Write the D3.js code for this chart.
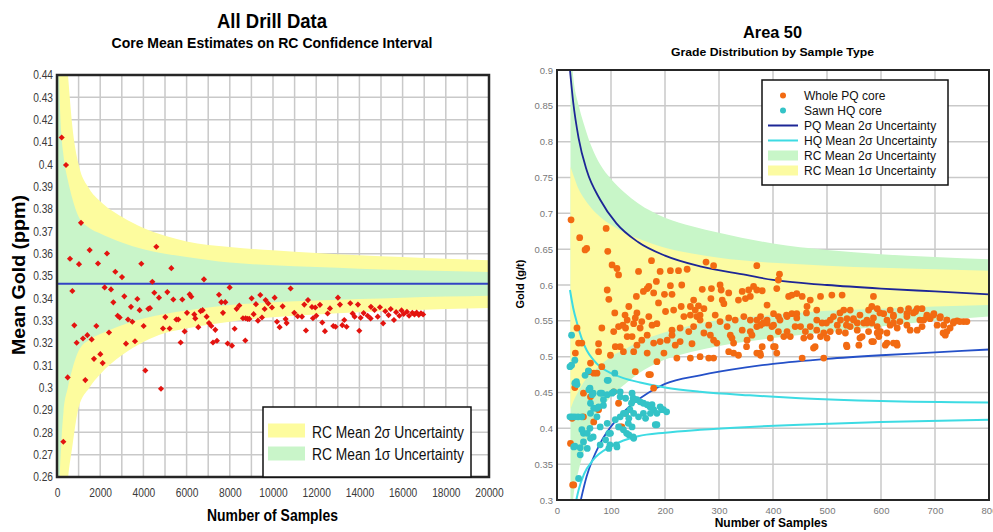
<!DOCTYPE html>
<html>
<head>
<meta charset="utf-8">
<script src="https://cdn.jsdelivr.net/npm/d3@7"></script>
<style>
  body { margin: 0; background: #fff; }
  text { font-family: "Liberation Sans", Arial, sans-serif; }
</style>
</head>
<body>
<svg id="chart" width="993" height="532"></svg>
<script>
// ---------- panel izquierdo: All Drill Data ----------
const left_x_ticks = [0, 2000, 4000, 6000, 8000, 10000, 12000, 14000, 16000, 18000, 20000];
const left_y_ticks = [0.26, 0.27, 0.28, 0.29, 0.3, 0.31, 0.32, 0.33, 0.34, 0.35, 0.36, 0.37, 0.38, 0.39, 0.4, 0.41, 0.42, 0.43, 0.44];
const left_rc_mean = 0.3465;

// bandas de confianza RC
const left_band_n   = [50, 100, 200, 300, 500, 700, 1000, 1500, 2000, 3000, 4000, 5000, 6000, 8000, 10000, 12000, 14000, 16000, 18000, 20000];
const left_2s_hi    = [0.65, 0.56, 0.49, 0.465, 0.441, 0.418, 0.400, 0.389, 0.3835, 0.3765, 0.3715, 0.368, 0.3655, 0.3630, 0.3615, 0.3603, 0.3593, 0.3585, 0.3577, 0.3571];
const left_2s_lo    = [0.04, 0.13, 0.20, 0.228, 0.258, 0.273, 0.291, 0.300, 0.306, 0.3145, 0.3205, 0.3245, 0.3265, 0.3295, 0.3315, 0.3328, 0.3338, 0.3346, 0.3352, 0.3357];
const left_1s_hi    = [0.47, 0.44, 0.414, 0.404, 0.393, 0.385, 0.3765, 0.3715, 0.369, 0.365, 0.362, 0.360, 0.3585, 0.356, 0.3548, 0.354, 0.3533, 0.3527, 0.3522, 0.3518];
const left_1s_lo    = [0.223, 0.250, 0.275, 0.289, 0.300, 0.308, 0.3165, 0.3215, 0.324, 0.328, 0.331, 0.333, 0.3345, 0.337, 0.3382, 0.339, 0.3397, 0.3403, 0.3408, 0.3412];

// medias de núcleo (número de muestras, oro medio)
const core_means = [
  [217,0.412],[417,0.3997],[293,0.2758],[494,0.3046],[602,0.3577],[710,0.3433],[802,0.3279],[910,0.3201],
  [1018,0.3553],[1111,0.3738],[1203,0.3220],[1311,0.3034],[1404,0.3235],[1512,0.3616],[1604,0.3216],[1712,0.3129],
  [1821,0.3276],[1898,0.3556],[2006,0.3150],[2114,0.3110],[2206,0.3449],[2314,0.3601],[2407,0.3247],[2500,0.3440],
  [2608,0.3382],[2700,0.3519],[2808,0.3322],[2901,0.3314],[3009,0.3495],[3117,0.3409],[3194,0.3197],[3287,0.3305],
  [3425,0.3362],[3487,0.3295],[3611,0.3208],[3719,0.3397],[3826,0.3347],[3904,0.3555],[4012,0.3276],[4089,0.3077],
  [4228,0.3353],[4305,0.3356],[4413,0.3474],[4505,0.3425],[4598,0.3631],[4721,0.3403],[4814,0.2995],[4907,0.3265],
  [5015,0.3316],[5107,0.3428],[5215,0.3265],[5293,0.3535],[5385,0.3395],[5524,0.3305],[5616,0.3305],[5724,0.3202],
  [5801,0.3395],[5909,0.3252],[6018,0.3335],[6141,0.3418],[6218,0.3407],[6357,0.3328],[6403,0.3310],[6542,0.3271],
  [6650,0.3343],[6743,0.3347],[6804,0.3485],[6928,0.3318],[7036,0.3289],[7144,0.3276],[7221,0.3202],[7329,0.3259],
  [7406,0.3210],[7499,0.3416],[7607,0.3383],[7684,0.3335],[7792,0.3383],[7900,0.3198],[7993,0.3449],[8101,0.3188],
  [8224,0.3264],[8317,0.3353],[8440,0.3368],[8610,0.3311],[8718,0.3211],[8733,0.3311],[8826,0.3308],[8903,0.3308],
  [9011,0.3400],[9104,0.3329],[9211,0.3374],[9304,0.3300],[9412,0.3415],[9489,0.3314],[9613,0.3352],[9659,0.3392],
  [9782,0.3377],[9952,0.3359],[10076,0.3403],[10184,0.3295],[10307,0.3271],[10446,0.3364],[10585,0.3307],[10631,0.3289],
  [10816,0.3444],[10986,0.3335],[11141,0.3320],[11341,0.3318],[11449,0.3372],[11526,0.3256],[11619,0.3392],[11804,0.3361],
  [11850,0.3311],[11958,0.3359],[12004,0.3322],[12174,0.3371],[12282,0.3292],[12405,0.3253],[12529,0.3332],[12637,0.3355],
  [12791,0.3276],[12899,0.3273],[13007,0.3403],[13100,0.3372],[13208,0.3280],[13300,0.3303],[13408,0.3273],[13578,0.3378],
  [13686,0.3332],[13779,0.3318],[13933,0.3372],[13995,0.3255],[14057,0.3313],[14196,0.3334],[14381,0.3322],[14520,0.3310],
  [14535,0.3362],[14700,0.3348],[14850,0.3318],[14950,0.3360],[15100,0.3288],[15200,0.3342],[15350,0.3325],[15450,0.3352],
  [15600,0.3303],[15700,0.3338],[15850,0.3322],[15950,0.3346],[16050,0.3330],[16200,0.3340],[16300,0.3322],[16450,0.3335],
  [16550,0.3328],[16650,0.3336],[16750,0.3326],[16850,0.3333],[16950,0.3328]
];
const left_legend = ["RC Mean 2σ Uncertainty", "RC Mean 1σ Uncertainty"];

// ---------- panel derecho: Area 50 ----------
const right_x_ticks = [0, 100, 200, 300, 400, 500, 600, 700, 800];
const right_y_ticks = [0.3, 0.35, 0.4, 0.45, 0.5, 0.55, 0.6, 0.65, 0.7, 0.75, 0.8, 0.85, 0.9];

const rc_n      = [25, 30, 40, 50, 65, 80, 100, 125, 150, 200, 250, 300, 400, 500, 600, 700, 800];
const rc_2s_hi  = [0.936, 0.891, 0.851, 0.824, 0.791, 0.768, 0.748, 0.729, 0.714, 0.694, 0.682, 0.673, 0.658, 0.649, 0.643, 0.639, 0.636];
const rc_2s_lo  = [0.256, 0.301, 0.341, 0.368, 0.401, 0.424, 0.444, 0.461, 0.476, 0.496, 0.507, 0.515, 0.526, 0.534, 0.542, 0.550, 0.556];
const rc_1s_hi  = [0.765, 0.754, 0.734, 0.721, 0.706, 0.695, 0.684, 0.673, 0.665, 0.652, 0.644, 0.638, 0.631, 0.627, 0.624, 0.622, 0.620];
const rc_1s_lo  = [0.427, 0.437, 0.452, 0.465, 0.478, 0.488, 0.500, 0.510, 0.520, 0.534, 0.544, 0.551, 0.558, 0.564, 0.567, 0.570, 0.572];

const pq_hi_n = [24, 30, 40, 55, 80, 110, 150, 200, 265, 350, 400, 500, 600, 700, 800];
const pq_hi   = [0.900, 0.855, 0.805, 0.760, 0.719, 0.686, 0.660, 0.641, 0.626, 0.614, 0.607, 0.600, 0.595, 0.591, 0.587];
const pq_lo_n = [41, 55, 80, 110, 140, 170, 200, 265, 350, 400, 500, 600, 700, 800];
const pq_lo   = [0.290, 0.333, 0.379, 0.412, 0.434, 0.450, 0.462, 0.474, 0.485, 0.490, 0.497, 0.502, 0.506, 0.510];
const hq_hi_n = [24, 30, 37, 45, 55, 67, 80, 100, 123, 154, 200, 265, 357, 450, 600, 800];
const hq_hi   = [0.593, 0.568, 0.547, 0.527, 0.509, 0.496, 0.486, 0.477, 0.470, 0.464, 0.457, 0.451, 0.446, 0.442, 0.438, 0.436];
const hq_lo_n = [33, 40, 50, 67, 98, 123, 150, 200, 265, 357, 450, 600, 800];
const hq_lo   = [0.290, 0.314, 0.336, 0.356, 0.374, 0.383, 0.389, 0.394, 0.398, 0.402, 0.405, 0.409, 0.412];

// núcleo PQ entero
const pq_core = [
  [26,0.691],[42,0.666],[55,0.651],[52,0.649],[91,0.679],[94,0.647],[102,0.628],[111,0.623],[114,0.614],[93,0.593],
  [96,0.580],[151,0.619],[175,0.634],[191,0.619],[210,0.620],[225,0.620],[241,0.622],[276,0.632],[290,0.627],[370,0.627],
  [412,0.615],[410,0.607],[184,0.605],[167,0.595],[160,0.591],[147,0.584],[133,0.570],[148,0.561],[145,0.554],[107,0.561],
  [130,0.551],[122,0.544],[105,0.535],[83,0.540],[77,0.518],[99,0.502],[170,0.598],[179,0.589],[188,0.575],[199,0.587],
  [210,0.599],[213,0.587],[231,0.600],[201,0.563],[216,0.565],[230,0.570],[235,0.556],[247,0.570],[256,0.565],[262,0.571],
  [265,0.558],[272,0.567],[269,0.594],[285,0.581],[286,0.595],[302,0.600],[304,0.593],[318,0.589],[306,0.579],[309,0.574],
  [336,0.579],[343,0.591],[349,0.581],[358,0.584],[355,0.593],[364,0.598],[370,0.593],[380,0.592],[389,0.572],[407,0.595],
  [429,0.584],[435,0.586],[444,0.588],[454,0.584],[469,0.579],[488,0.584],[509,0.586],[528,0.586],[586,0.584],[531,0.565],
  [543,0.565],[481,0.565],[463,0.570],[435,0.560],[426,0.556],[444,0.560],[401,0.560],[410,0.556],[377,0.556],[383,0.547],
  [389,0.551],[346,0.556],[358,0.551],[318,0.554],[330,0.551],[293,0.558],[302,0.549],[281,0.544],[315,0.542],[284,0.530],
  [290,0.523],[321,0.530],[324,0.526],[343,0.537],[358,0.535],[370,0.542],[377,0.544],[389,0.547],[398,0.542],[410,0.535],
  [420,0.528],[426,0.535],[441,0.542],[451,0.542],[469,0.542],[481,0.537],[491,0.547],[506,0.551],[519,0.544],[525,0.551],
  [537,0.553],[549,0.553],[556,0.547],[568,0.547],[577,0.565],[583,0.570],[593,0.567],[605,0.560],[617,0.565],[623,0.556],
  [636,0.565],[648,0.560],[651,0.567],[664,0.563],[667,0.567],[676,0.567],[685,0.558],[698,0.560],[710,0.556],[722,0.551],
  [735,0.549],[741,0.550],[753,0.549],[679,0.551],[691,0.553],[704,0.544],[716,0.544],[728,0.540],[719,0.530],[648,0.544],
  [654,0.537],[667,0.537],[676,0.542],[617,0.544],[630,0.540],[611,0.533],[623,0.547],[574,0.551],[583,0.547],[593,0.542],
  [599,0.535],[556,0.537],[565,0.528],[577,0.535],[593,0.533],[534,0.533],[543,0.542],[522,0.535],[506,0.535],[494,0.533],
  [500,0.526],[488,0.528],[469,0.528],[460,0.535],[457,0.526],[432,0.528],[537,0.514],[559,0.516],[583,0.521],[596,0.528],
  [608,0.516],[623,0.519],[630,0.516],[478,0.514],[454,0.498],[494,0.498],[395,0.526],[404,0.514],[407,0.505],[380,0.514],
  [370,0.505],[377,0.502],[361,0.530],[352,0.523],[327,0.519],[318,0.507],[327,0.505],[336,0.502],[296,0.519],[290,0.498],
  [281,0.498],[265,0.500],[247,0.498],[222,0.498],[198,0.505],[185,0.493],[250,0.518],[228,0.521],[219,0.516],[204,0.523],
  [191,0.521],[179,0.519],[167,0.530],[157,0.523],[148,0.516],[139,0.528],[130,0.528],[117,0.514],[108,0.514],[77,0.507],
  [167,0.505],[142,0.507],[123,0.507],[145,0.479],[170,0.475],[154,0.540],[142,0.546],[127,0.540],[114,0.542],[157,0.549],
  [170,0.556],[176,0.544],[185,0.546],[253,0.542],[244,0.535],[228,0.540],[213,0.537],[213,0.530],[272,0.533],[253,0.579],
  [259,0.556],[265,0.551],[247,0.558],[126,0.558],[37,0.540],[40,0.519],[46,0.519],[34,0.505],[62,0.491],[59,0.479],
  [68,0.477],[74,0.477],[83,0.486],[49,0.449],[62,0.444],[77,0.426],[28,0.414],[49,0.416],[68,0.409],[105,0.451],
  [114,0.435],[117,0.402],[127,0.421],[179,0.456],[173,0.475],[25,0.379],[29,0.321],[31,0.321],[33,0.457],[120,0.402],
  [370,0.551],[382,0.547],[401,0.544],[413,0.551],[425,0.558],[444,0.554],[462,0.561],[481,0.551],[499,0.547],[512,0.556],
  [524,0.561],[536,0.544],[549,0.551],[561,0.558],[574,0.547],[586,0.554],[598,0.561],[611,0.551],[623,0.558],[635,0.549],
  [648,0.556],[660,0.561],[672,0.551],[685,0.556],[697,0.558],[709,0.554],[722,0.551],[734,0.547],[746,0.549],[759,0.549],
  [351,0.514],[376,0.505],[401,0.514],[475,0.512],[536,0.516],[561,0.526],[586,0.521],[611,0.519],[629,0.519],[715,0.533],
  [722,0.535]
];
// núcleo HQ aserrado
const hq_core = [
  [27,0.530],[24,0.486],[27,0.488],[33,0.495],[33,0.463],[36,0.465],[24,0.416],[33,0.416],[39,0.416],[49,0.381],
  [33,0.375],[43,0.373],[43,0.363],[49,0.393],[61,0.400],[52,0.474],[58,0.480],[61,0.456],[67,0.449],[80,0.449],
  [74,0.428],[67,0.388],[80,0.402],[86,0.440],[95,0.467],[107,0.477],[105,0.451],[117,0.451],[117,0.444],[98,0.377],
  [132,0.407],[129,0.393],[141,0.388],[123,0.421],[135,0.426],[138,0.435],[141,0.442],[148,0.440],[154,0.437],[160,0.435],
  [167,0.433],[172,0.430],[179,0.426],[185,0.421],[191,0.430],[197,0.426],[203,0.423],[185,0.405],[114,0.402],[117,0.416],
  [90,0.384],[96,0.393],[37,0.461],[59,0.454],[65,0.447],[83,0.449],[93,0.447],[102,0.449],[93,0.467],[127,0.442],
  [139,0.449],[145,0.440],[176,0.433],[194,0.426],[62,0.435],[68,0.428],[77,0.430],[86,0.432],[127,0.421],[133,0.414],
  [142,0.421],[151,0.416],[160,0.421],[108,0.412],[139,0.402],[123,0.398],[164,0.414],[173,0.421],[182,0.405],[28,0.416],
  [46,0.416],[62,0.421],[74,0.416],[93,0.407],[99,0.393],[46,0.398],[56,0.393],[62,0.386],[31,0.374],[56,0.372],
  [80,0.377],[96,0.372],[111,0.374],[110,0.377],[133,0.391],[142,0.386],[40,0.330]
];
const right_legend = ["Whole PQ core", "Sawn HQ core", "PQ Mean 2σ Uncertainty", "HQ Mean 2σ Uncertainty", "RC Mean 2σ Uncertainty", "RC Mean 1σ Uncertainty"];

const svg = d3.select("#chart");

// ajusta el ancho de un texto (las fuentes originales son estrechas)
function fit(sel, w) {
  sel.attr("textLength", w).attr("lengthAdjust", "spacingAndGlyphs");
}
function squeeze(sel, k) {
  sel.each(function () {
    const w = this.getComputedTextLength();
    d3.select(this).attr("textLength", w * k).attr("lengthAdjust", "spacingAndGlyphs");
  });
}

// construye pares de puntos para las curvas
function zipBand(ns, lo, hi) { return ns.map((n, i) => ({n: n, lo: lo[i], hi: hi[i]})); }
function zipLine(ns, vs) { return ns.map((n, i) => ({n: n, v: vs[i]})); }

function drawGrid(g, x, y, nx, ny) {
  const [x0, x1] = x.range(), [y0, y1] = y.range();
  g.append("g").selectAll("line").data(x.ticks(nx)).join("line")
    .attr("x1", d => x(d)).attr("x2", d => x(d)).attr("y1", y0).attr("y2", y1)
    .attr("stroke", "#c9c9c9").attr("stroke-width", 1.5);
  g.append("g").selectAll("line").data(y.ticks(ny)).join("line")
    .attr("y1", d => y(d)).attr("y2", d => y(d)).attr("x1", x0).attr("x2", x1)
    .attr("stroke", "#c9c9c9").attr("stroke-width", 1.5);
}

function left_panel() {
  const x = d3.scaleLinear().domain([0, 20000]).range([57, 489]);
  const y = d3.scaleLinear().domain([0.26, 0.44]).range([477, 75]);
  const g = svg.append("g");

  g.append("clipPath").attr("id", "clipL").append("rect")
    .attr("x", 57).attr("y", 75).attr("width", 432).attr("height", 402);

  drawGrid(g, x, y, 20, 18);

  const area = d3.area().x(d => x(d.n)).y0(d => y(d.lo)).y1(d => y(d.hi)).curve(d3.curveMonotoneX);
  const plot = g.append("g").attr("clip-path", "url(#clipL)");
  plot.append("path").datum(zipBand(left_band_n, left_2s_lo, left_2s_hi)).attr("d", area).attr("fill", "#fdfc9e");
  plot.append("path").datum(zipBand(left_band_n, left_1s_lo, left_1s_hi)).attr("d", area).attr("fill", "#c9f5c9");

  // media RC
  plot.append("line").attr("x1", x(0)).attr("x2", x(20000))
    .attr("y1", y(left_rc_mean)).attr("y2", y(left_rc_mean))
    .attr("stroke", "#3343c4").attr("stroke-width", 2);

  plot.append("g").selectAll("path").data(core_means).join("path")
    .attr("transform", d => `translate(${x(d[0])},${y(d[1])})`)
    .attr("d", d3.symbol().type(d3.symbolDiamond2).size(24))
    .attr("fill", "#e3130f");

  // marco
  g.append("rect").attr("x", 57).attr("y", 75).attr("width", 432).attr("height", 402)
    .attr("fill", "none").attr("stroke", "#262626").attr("stroke-width", 2.5);

  // ejes
  const ax = g.append("g").attr("transform", "translate(0,477)")
    .call(d3.axisBottom(x).tickValues(left_x_ticks).tickSize(0).tickPadding(11).tickFormat(d3.format("d")));
  const ay = g.append("g").attr("transform", "translate(57,0)")
    .call(d3.axisLeft(y).tickValues(left_y_ticks).tickSize(0).tickPadding(4).tickFormat(d => String(+d.toFixed(2))));
  [ax, ay].forEach(a => {
    a.select(".domain").remove();
    a.selectAll("text").attr("font-family", "Liberation Sans, Arial, sans-serif")
      .attr("font-size", 12).attr("fill", "#3a3a3a").call(squeeze, 0.85);
  });

  // títulos
  g.append("text").attr("x", 272).attr("y", 28).attr("text-anchor", "middle")
    .attr("font-size", 21).attr("font-weight", "bold").text("All Drill Data").call(fit, 110);
  g.append("text").attr("x", 272).attr("y", 47.5).attr("text-anchor", "middle")
    .attr("font-size", 15).attr("font-weight", "bold").text("Core Mean Estimates on RC Confidence Interval").call(fit, 321);
  g.append("text").attr("transform", "translate(25,275) rotate(-90)").attr("text-anchor", "middle")
    .attr("font-size", 18).attr("font-weight", "bold").text("Mean Gold (ppm)").call(fit, 160);
  g.append("text").attr("x", 272.5).attr("y", 521).attr("text-anchor", "middle")
    .attr("font-size", 17).attr("font-weight", "bold").text("Number of Samples").call(fit, 131);

  // leyenda
  const lg = g.append("g");
  lg.append("rect").attr("x", 263).attr("y", 407).attr("width", 208).attr("height", 70)
    .attr("fill", "#fff").attr("stroke", "#111").attr("stroke-width", 1.5);
  const cols = ["#fdfc9e", "#c9f5c9"];
  left_legend.forEach((t, i) => {
    lg.append("rect").attr("x", 268).attr("y", 423.5 + i * 23).attr("width", 37).attr("height", 14).attr("fill", cols[i]);
    lg.append("text").attr("x", 312).attr("y", 437.5 + i * 22.3).attr("font-size", 16).attr("fill", "#111")
      .text(t).call(fit, 152);
  });
}

function right_panel() {
  const x = d3.scaleLinear().domain([0, 800]).range([557, 989]);
  const y = d3.scaleLinear().domain([0.3, 0.9]).range([500, 70]);
  const g = svg.append("g");

  g.append("clipPath").attr("id", "clipR").append("rect")
    .attr("x", 557).attr("y", 70).attr("width", 432).attr("height", 430);

  drawGrid(g, x, y, 8, 12);

  const area = d3.area().x(d => x(d.n)).y0(d => y(d.lo)).y1(d => y(d.hi)).curve(d3.curveMonotoneX);
  const line = d3.line().x(d => x(d.n)).y(d => y(d.v)).curve(d3.curveMonotoneX);
  const plot = g.append("g").attr("clip-path", "url(#clipR)");
  plot.append("path").datum(zipBand(rc_n, rc_2s_lo, rc_2s_hi)).attr("d", area).attr("fill", "#c8f6c8");
  plot.append("path").datum(zipBand(rc_n, rc_1s_lo, rc_1s_hi)).attr("d", area).attr("fill", "#fcfba2");

  // curvas de incertidumbre PQ y HQ
  plot.append("path").datum(zipLine(pq_hi_n, pq_hi)).attr("d", line)
    .attr("fill", "none").attr("stroke", "#1d2696").attr("stroke-width", 1.8);
  plot.append("path").datum(zipLine(pq_lo_n, pq_lo)).attr("d", line)
    .attr("fill", "none").attr("stroke", "#2450c8").attr("stroke-width", 1.8);
  [[hq_hi_n, hq_hi], [hq_lo_n, hq_lo]].forEach(([ns, vs]) => {
    plot.append("path").datum(zipLine(ns, vs)).attr("d", line)
      .attr("fill", "none").attr("stroke", "#3ddbe3").attr("stroke-width", 2);
  });

  plot.append("g").selectAll("circle").data(pq_core).join("circle")
    .attr("cx", d => x(d[0])).attr("cy", d => y(d[1])).attr("r", 3.4).attr("fill", "#f26a12");
  plot.append("g").selectAll("circle").data(hq_core).join("circle")
    .attr("cx", d => x(d[0])).attr("cy", d => y(d[1])).attr("r", 3.4).attr("fill", "#34c3c7");

  g.append("rect").attr("x", 557).attr("y", 70).attr("width", 432).attr("height", 430)
    .attr("fill", "none").attr("stroke", "#262626").attr("stroke-width", 2);

  const ax = g.append("g").attr("transform", "translate(0,500)")
    .call(d3.axisBottom(x).tickValues(right_x_ticks).tickSize(0).tickPadding(7));
  const ay = g.append("g").attr("transform", "translate(557,0)")
    .call(d3.axisLeft(y).tickValues(right_y_ticks).tickSize(0).tickPadding(4).tickFormat(d => String(+d.toFixed(2))));
  [ax, ay].forEach(a => {
    a.select(".domain").remove();
    a.selectAll("text").attr("font-family", "Liberation Sans, Arial, sans-serif")
      .attr("font-size", 9.5).attr("fill", "#777");
  });

  g.append("text").attr("x", 772.5).attr("y", 38).attr("text-anchor", "middle")
    .attr("font-size", 16).attr("font-weight", "bold").text("Area 50").call(fit, 59);
  g.append("text").attr("x", 772.5).attr("y", 55.5).attr("text-anchor", "middle")
    .attr("font-size", 11.5).attr("font-weight", "bold").text("Grade Distribution by Sample Type").call(fit, 203);
  g.append("text").attr("transform", "translate(524,284) rotate(-90)").attr("text-anchor", "middle")
    .attr("font-size", 11).attr("font-weight", "bold").text("Gold (g/t)");
  g.append("text").attr("x", 771).attr("y", 527).attr("text-anchor", "middle")
    .attr("font-size", 12).attr("font-weight", "bold").text("Number of Samples");

  // leyenda
  const lg = g.append("g");
  lg.append("rect").attr("x", 762).attr("y", 80).attr("width", 186).attr("height", 105)
    .attr("fill", "#fff").attr("stroke", "#111").attr("stroke-width", 1.5);
  const rowY = [95.5, 110.5, 125.5, 140.5, 155.5, 170.5];
  lg.append("circle").attr("cx", 783).attr("cy", rowY[0]).attr("r", 3).attr("fill", "#f26a12");
  lg.append("circle").attr("cx", 783).attr("cy", rowY[1]).attr("r", 3).attr("fill", "#34c3c7");
  lg.append("line").attr("x1", 768).attr("x2", 798).attr("y1", rowY[2]).attr("y2", rowY[2])
    .attr("stroke", "#1d2696").attr("stroke-width", 2);
  lg.append("line").attr("x1", 768).attr("x2", 798).attr("y1", rowY[3]).attr("y2", rowY[3])
    .attr("stroke", "#3ddbe3").attr("stroke-width", 2);
  lg.append("rect").attr("x", 768).attr("y", rowY[4] - 5).attr("width", 30).attr("height", 10).attr("fill", "#c8f6c8");
  lg.append("rect").attr("x", 768).attr("y", rowY[5] - 5).attr("width", 30).attr("height", 10).attr("fill", "#fcfba2");
  right_legend.forEach((t, i) => {
    lg.append("text").attr("x", 804).attr("y", rowY[i] + 4.3).attr("font-size", 12).attr("fill", "#111").text(t);
  });
}

left_panel();
right_panel();
</script>
</body>
</html>
